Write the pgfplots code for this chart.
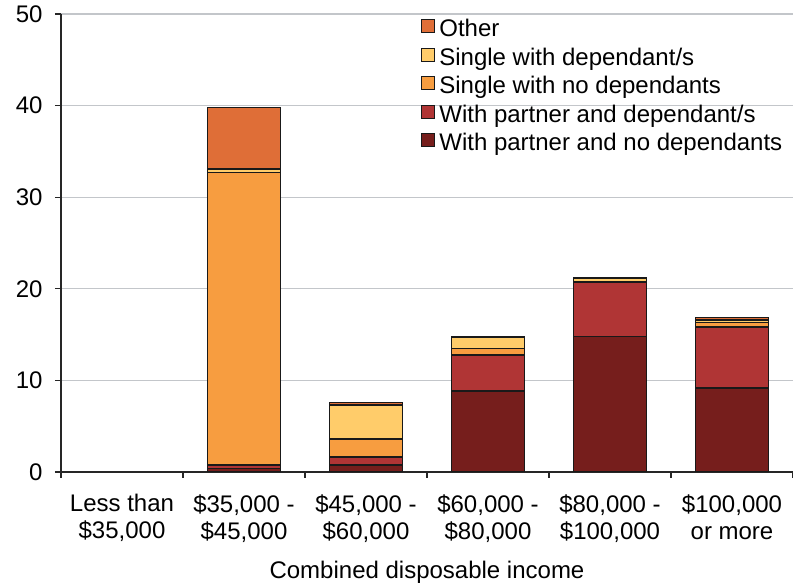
\documentclass[border=0pt]{standalone}
\usepackage{fontspec}
\setmainfont{Liberation Sans}
\usepackage{pgfplots}
\pgfplotsset{compat=1.18}
\usepackage{pgfplotstable}

\definecolor{cOther}{HTML}{DF6E37}
\definecolor{cSingDep}{HTML}{FFCC6A}
\definecolor{cSingNo}{HTML}{F79D40}
\definecolor{cPartDep}{HTML}{B03535}
\definecolor{cPartNo}{HTML}{761E1C}
\definecolor{gridgray}{HTML}{C3C6CA}

% percent of households by income band and household type
\pgfplotstableread{
cat pnd  pd   snd   sd   oth
0   0    0    0     0    0
1   0.4  0.35 31.95 0.4  6.7
2   0.75 0.9  1.95  3.7  0.3
3   8.85 3.9  0.75  1.25 0
4   14.8 5.9  0.05  0.4  0
5   9.2  6.65 0.45  0.3  0.25
}\households

\tikzset{barseg/.style={draw=black!90, line width=1.6pt}}

\begin{document}
\begin{tikzpicture}
\begin{axis}[
  scale only axis,
  width=732pt, height=458pt,
  ybar stacked,
  bar width=0.6,
  xmin=-0.5, xmax=5.5,
  ymin=0, ymax=50,
  axis x line*=bottom,
  axis y line*=left,
  axis line style={line width=1.3pt, black!85},
  xtick={0,1,2,3,4,5},
  xticklabels={{Less than\\\$35,000},{\$35,000 -\\\$45,000},{\$45,000 -\\\$60,000},{\$60,000 -\\\$80,000},{\$80,000 -\\\$100,000},{\$100,000\\or more}},
  xticklabel style={align=center, yshift=-13pt},
  major x tick style={draw=none},
  minor xtick={-0.5,0.5,1.5,2.5,3.5,4.5,5.5},
  minor x tick style={line width=1.3pt, black!85},
  minor tick length=6pt,
  ytick={0,10,20,30,40,50},
  yticklabel style={xshift=-9pt},
  y tick style={line width=1.3pt, black!85},
  major tick length=6pt,
  tick align=outside,
  ymajorgrids,
  grid style={line width=1.3pt, gridgray},
  /pgf/number format/assume math mode=true,
  tick label style={font=\fontsize{24}{27}\selectfont},
  label style={font=\fontsize{24}{27}\selectfont},
  xlabel={Combined disposable income},
  xlabel style={yshift=-12pt},
  reverse legend,
  legend image code/.code={\draw[#1, line width=1.2pt] (0pt,4pt) rectangle (13pt,17pt);},
  legend style={at={(0.487,1.0)}, anchor=north west, draw=none, fill=none,
    font=\fontsize{24}{27}\selectfont, cells={anchor=base west},
    nodes={text height=17.5pt, text depth=5pt, inner ysep=3pt, inner xsep=4.5pt},
    column sep=0pt, row sep=0pt},
]
\addplot[fill=cPartNo, barseg] table[x=cat, y=pnd] {\households};
\addplot[fill=cPartDep, barseg] table[x=cat, y=pd] {\households};
\addplot[fill=cSingNo, barseg] table[x=cat, y=snd] {\households};
\addplot[fill=cSingDep, barseg] table[x=cat, y=sd] {\households};
\addplot[fill=cOther, barseg] table[x=cat, y=oth] {\households};
\legend{With partner and no dependants, With partner and dependant/s, Single with no dependants, Single with dependant/s, Other}
\end{axis}
\pgfresetboundingbox
\path ([xshift=-61pt, yshift=-112pt]current axis.south west) rectangle ([yshift=14pt]current axis.north east);
\end{tikzpicture}
\end{document}
